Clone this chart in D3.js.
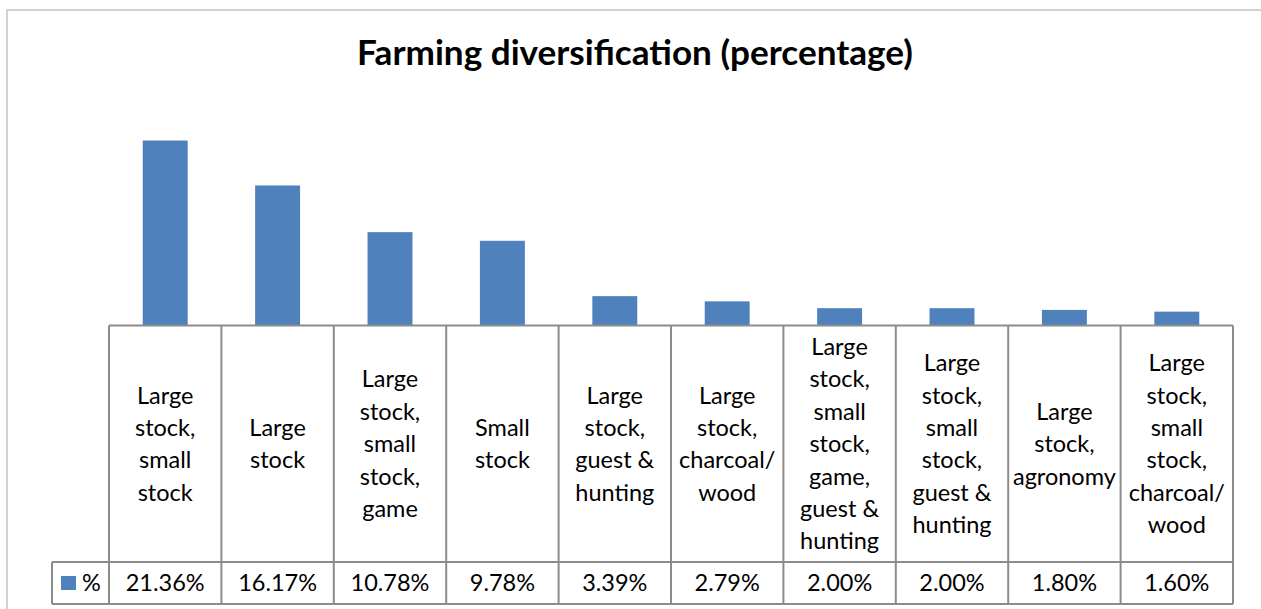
<!DOCTYPE html>
<html><head><meta charset="utf-8">
<script src="https://cdn.jsdelivr.net/npm/d3@7"></script>
<style>body{margin:0;background:#fff;} svg{display:block;}</style>
</head><body>
<svg id="c" width="1261" height="609"></svg>
<script>
const categories = [
  ["Large","stock,","small","stock"],
  ["Large","stock"],
  ["Large","stock,","small","stock,","game"],
  ["Small","stock"],
  ["Large","stock,","guest &","hunting"],
  ["Large","stock,","charcoal/","wood"],
  ["Large","stock,","small","stock,","game,","guest &","hunting"],
  ["Large","stock,","small","stock,","guest &","hunting"],
  ["Large","stock,","agronomy"],
  ["Large","stock,","small","stock,","charcoal/","wood"]
];
const values = [21.36, 16.17, 10.78, 9.78, 3.39, 2.79, 2.00, 2.00, 1.80, 1.60];
const valueLabels = ["21.36%","16.17%","10.78%","9.78%","3.39%","2.79%","2.00%","2.00%","1.80%","1.60%"];
const seriesName = "%";
const titleText = "Farming diversification (percentage)";

(function(){
const svg = d3.select("#c");
const font = "Lato, 'Open Sans', sans-serif";
const gridCol = "#8c8c8c";
const barCol = "#4f81bd";

svg.append("path").attr("d","M7,612 L7,10 L1263,10").attr("fill","none").attr("stroke","#c4c4c4").attr("stroke-width",1.5);

const title = svg.append("text").attr("x",635).attr("y",65).attr("text-anchor","middle")
  .attr("font-family",font).attr("font-weight","bold").attr("font-size",30).attr("fill","#000").text(titleText);
const tw = title.node().getComputedTextLength();
title.attr("font-size", 30*556/tw);

const pLeft = 109, pRight = 1233, base = 325.5, pTop = 109;
const x = d3.scaleBand().domain(d3.range(values.length)).range([pLeft,pRight]).paddingInner(0).paddingOuter(0);
const y = d3.scaleLinear().domain([0,25]).range([base, pTop]);
const bw = x.bandwidth()/2.5;

svg.append("g").selectAll("rect").data(values).join("rect")
  .attr("x",(d,i)=>x(i)+(x.bandwidth()-bw)/2).attr("width",bw)
  .attr("y",d=>y(d)).attr("height",d=>base-y(d)).attr("fill",barCol);

const rowTop = base, rowMid = 562, rowBot = 604, legLeft = 52;
const g = svg.append("g").attr("stroke",gridCol).attr("stroke-width",2).attr("fill","none");
g.append("line").attr("x1",pLeft).attr("x2",pRight).attr("y1",rowTop).attr("y2",rowTop);
g.append("line").attr("x1",legLeft).attr("x2",pRight).attr("y1",rowMid).attr("y2",rowMid);
g.append("line").attr("x1",legLeft).attr("x2",pRight).attr("y1",rowBot).attr("y2",rowBot);
g.append("line").attr("x1",legLeft).attr("x2",legLeft).attr("y1",rowMid).attr("y2",rowBot);
d3.range(values.length+1).forEach(i=>{
  const xx = i<values.length ? x(i) : pRight;
  g.append("line").attr("x1",xx).attr("x2",xx).attr("y1",rowTop).attr("y2",rowBot);
});

const lh = 32.4, fs = 23.5;
const cy = (rowTop+rowMid)/2;
categories.forEach((lines,i)=>{
  const t = svg.append("text").attr("text-anchor","middle").attr("font-family",font).attr("font-size",fs).attr("fill","#000");
  const n = lines.length;
  lines.forEach((l,j)=>{
    t.append("tspan").attr("x",x(i)+x.bandwidth()/2).attr("y",cy + (j-(n-1)/2)*lh + fs*0.36).text(l);
  });
});
const vy = (rowMid+rowBot)/2 + fs*0.36;
svg.append("g").selectAll("text").data(valueLabels).join("text")
  .attr("x",(d,i)=>x(i)+x.bandwidth()/2).attr("y",vy).attr("text-anchor","middle")
  .attr("font-family",font).attr("font-size",fs).attr("fill","#000").text(d=>d);
svg.append("rect").attr("x",61).attr("y",576).attr("width",15).attr("height",14).attr("fill",barCol);
svg.append("text").attr("x",82).attr("y",vy).attr("font-family",font).attr("font-size",fs).attr("fill","#000").text(seriesName);
})();
</script>
</body></html>
